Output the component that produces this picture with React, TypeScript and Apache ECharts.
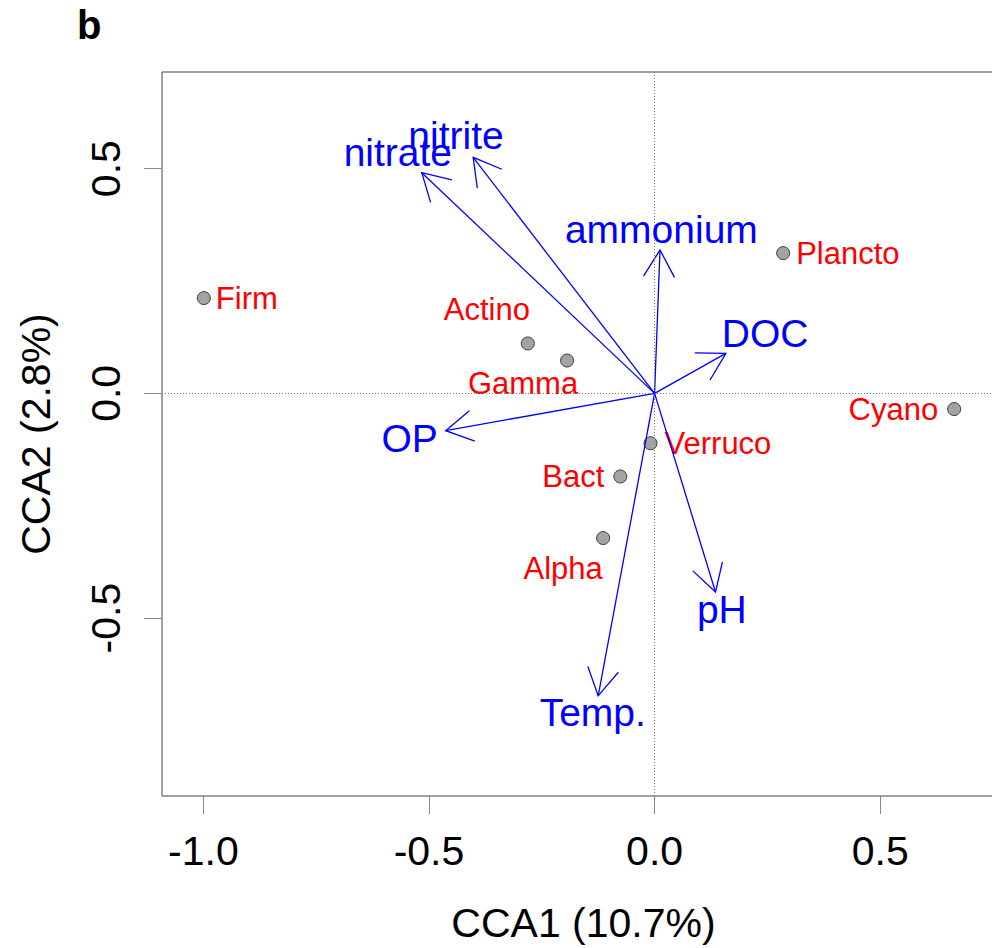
import React, { useEffect, useRef } from 'react';
import * as echarts from 'echarts';

// Species scores (CCA1, CCA2)
const speciesNames = ['Firm', 'Actino', 'Gamma', 'Plancto', 'Cyano', 'Verruco', 'Bact', 'Alpha'];
const speciesX = [-0.999, -0.281, -0.194, 0.285, 0.664, -0.009, -0.076, -0.114];
const speciesY = [0.212, 0.111, 0.073, 0.312, -0.035, -0.111, -0.185, -0.322];
const speciesLabelSide = ['right', 'top', 'bottom', 'right', 'left', 'right', 'left', 'bottom'];

// Environmental biplot arrows (tips) and their label anchors
const arrowNames = ['nitrate', 'nitrite', 'ammonium', 'DOC', 'OP', 'pH', 'Temp.'];
const arrowX = [-0.516, -0.402, 0.012, 0.158, -0.463, 0.135, -0.125];
const arrowY = [0.491, 0.525, 0.319, 0.089, -0.083, -0.442, -0.673];
const arrowLabelX = [-0.569, -0.44, 0.015, 0.245, -0.543, 0.149, -0.137];
const arrowLabelY = [0.535, 0.574, 0.365, 0.133, -0.1, -0.48, -0.711];

// Axes
const xTicks = [-1.0, -0.5, 0.0, 0.5];
const yTicks = [-0.5, 0.0, 0.5];
const xTitle = 'CCA1 (10.7%)';
const yTitle = 'CCA2 (2.8%)';
const panelLabel = 'b';

export default function App() {
  const ref = useRef<HTMLDivElement>(null);

  useEffect(() => {
    const chart = echarts.init(ref.current as HTMLDivElement, null, { renderer: 'svg' });
    const FONT = '"Liberation Sans", Arial, Helvetica, sans-serif';
    // label placement tweaks (pixels) per species label
    const perItemDist = [5, 11, 0, 6, 9, 7, 9, 8];
    const perItemShift = [0, -41, -44, 0, 0, 0, 0, -40];

    chart.setOption({
      animation: false,
      backgroundColor: '#ffffff',
      title: {
        text: panelLabel,
        left: 77,
        top: 5,
        padding: 0,
        textStyle: { fontSize: 40, fontWeight: 'bold', color: '#000', fontFamily: FONT },
      },
      grid: {
        left: 162,
        top: 72,
        width: 843,
        height: 727,
        show: true,
        borderColor: '#444',
        borderWidth: 1,
        backgroundColor: 'transparent',
      },
      xAxis: {
        type: 'value',
        min: -1.0917,
        max: 0.7766,
        name: xTitle,
        nameLocation: 'middle',
        nameGap: 106,
        nameTextStyle: { fontSize: 41, color: '#000', fontFamily: FONT },
        axisLine: { show: false, onZero: false },
        axisTick: { show: true, length: 18, customValues: xTicks, lineStyle: { color: '#888' } },
        axisLabel: {
          customValues: xTicks,
          formatter: (v: number) => v.toFixed(1),
          margin: 34,
          fontSize: 41,
          color: '#000',
          fontFamily: FONT,
        },
        splitLine: { show: false },
      },
      yAxis: {
        type: 'value',
        min: -0.8959,
        max: 0.715,
        name: yTitle,
        nameLocation: 'middle',
        nameGap: 106,
        nameRotate: 90,
        nameTextStyle: { fontSize: 41, color: '#000', fontFamily: FONT },
        axisLine: { show: false, onZero: false },
        axisTick: { show: true, length: 18, customValues: yTicks, lineStyle: { color: '#888' } },
        axisLabel: {
          customValues: yTicks,
          formatter: (v: number) => v.toFixed(1),
          rotate: 90,
          margin: 36,
          fontSize: 41,
          color: '#000',
          fontFamily: FONT,
        },
        splitLine: { show: false },
      },
      series: [
        {
          type: 'scatter',
          z: 1,
          data: [],
          silent: true,
          markLine: {
            silent: true,
            symbol: ['none', 'none'],
            label: { show: false },
            lineStyle: { type: [1, 2], color: '#7a7a7a', width: 1 },
            emphasis: { disabled: true },
            data: [{ xAxis: 0 }, { yAxis: 0 }],
          },
        },
        {
          type: 'scatter',
          z: 3,
          symbol: 'circle',
          symbolSize: 13,
          itemStyle: { color: '#a3a3a3', borderColor: '#3c3c3c', borderWidth: 1, opacity: 1 },
          label: {
            show: true,
            formatter: '{b}',
            color: '#ff0000',
            fontSize: 31,
            fontFamily: FONT,
          },
          data: speciesNames.map((n, i) => ({
            name: n,
            value: [speciesX[i], speciesY[i]],
            label: {
              position: speciesLabelSide[i],
              distance: perItemDist[i],
              offset: [perItemShift[i], 0],
            },
          })),
        },
        {
          type: 'custom',
          z: 4,
          silent: true,
          encode: { x: 0, y: 1 },
          data: arrowNames.map((_, i) => [arrowX[i], arrowY[i]]),
          renderItem: (params: any, api: any) => {
            const o = api.coord([0, 0]);
            const t = api.coord([api.value(0), api.value(1)]);
            const ang = Math.atan2(t[1] - o[1], t[0] - o[0]);
            const L = 31;
            const a = Math.PI / 6;
            const p1 = [t[0] - L * Math.cos(ang - a), t[1] - L * Math.sin(ang - a)];
            const p2 = [t[0] - L * Math.cos(ang + a), t[1] - L * Math.sin(ang + a)];
            return {
              type: 'group',
              children: [
                {
                  type: 'line',
                  shape: { x1: o[0], y1: o[1], x2: t[0], y2: t[1] },
                  style: { stroke: '#0000ff', lineWidth: 1.3 },
                },
                {
                  type: 'polyline',
                  shape: { points: [p1, t, p2] },
                  style: { stroke: '#0000ff', lineWidth: 1.3, fill: 'none' },
                },
              ],
            };
          },
        },
        {
          type: 'custom',
          z: 5,
          silent: true,
          encode: { x: 0, y: 1 },
          data: arrowNames.map((_, i) => [arrowLabelX[i], arrowLabelY[i]]),
          renderItem: (params: any, api: any) => {
            const p = api.coord([api.value(0), api.value(1)]);
            return {
              type: 'text',
              x: p[0],
              y: p[1],
              style: {
                text: arrowNames[params.dataIndex],
                fill: '#0000ff',
                fontSize: 39,
                fontFamily: FONT,
                align: 'center',
                verticalAlign: 'middle',
              },
            };
          },
        },
      ],
    });

    return () => chart.dispose();
  }, []);

  return (
    <div
      style={{
        position: 'absolute',
        left: 0,
        top: 0,
        width: 992,
        height: 948,
        overflow: 'hidden',
      }}
    >
      <div ref={ref} style={{ width: 1012, height: 948 }} />
    </div>
  );
}
